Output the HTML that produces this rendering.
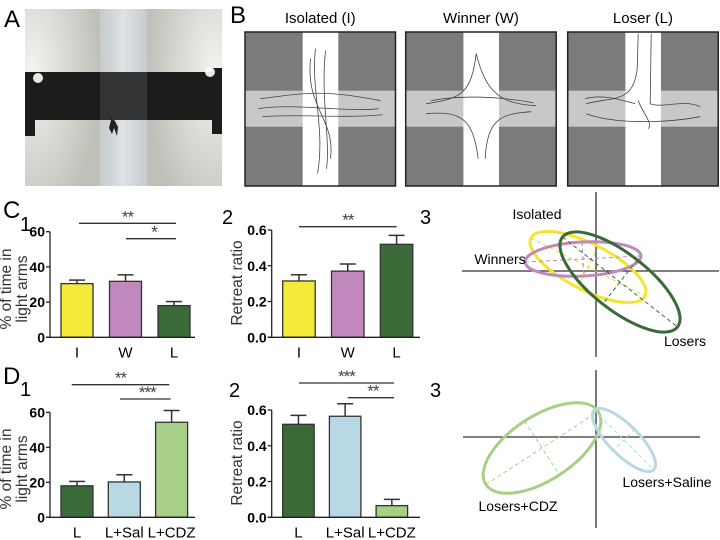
<!DOCTYPE html>
<html><head><meta charset="utf-8">
<style>
html,body{margin:0;padding:0;background:#fff;}
svg{display:block;font-family:"Liberation Sans",sans-serif;}
.tk{font-weight:bold;font-size:14px;}
.xl{font-size:15px;}
.pl{font-size:24px;}
.sn{font-size:20px;}
.st{font-size:17px;fill:#444;letter-spacing:-1px;}
</style></head>
<body>
<svg id="fig" width="720" height="540" viewBox="0 0 720 540">
<defs>
<radialGradient id="glowL" cx="0.1" cy="0.35" r="0.9"><stop offset="0" stop-color="#f4f4ef"/><stop offset="1" stop-color="#bfc0b8"/></radialGradient>
<radialGradient id="glowR" cx="0.9" cy="0.35" r="0.9"><stop offset="0" stop-color="#f4f4ef"/><stop offset="1" stop-color="#bfc0b8"/></radialGradient>
<linearGradient id="chan" x1="0" x2="1"><stop offset="0" stop-color="#c5cbcf"/><stop offset="0.5" stop-color="#dde2e5"/><stop offset="1" stop-color="#c5cbcf"/></linearGradient>
</defs>

<g>
<text class="pl" x="4" y="27">A</text>
<g>
<rect x="25" y="9" width="75" height="177" fill="url(#glowL)"/>
<rect x="147" y="9" width="75" height="177" fill="url(#glowR)"/>
<rect x="100" y="9" width="47" height="177" fill="url(#chan)"/>
<rect x="25" y="72" width="197" height="48" fill="#1c1c1c"/>
<rect x="25" y="120" width="10" height="16" fill="#1c1c1c"/>
<rect x="212" y="68" width="10" height="66" fill="#1c1c1c"/>
<rect x="100" y="72" width="47" height="48" fill="#3a3b3a" opacity="0.8"/>
<circle cx="38" cy="78" r="5" fill="#fff" opacity="0.9"/>
<circle cx="210" cy="72" r="5" fill="#fff" opacity="0.9"/>
<path d="M108,115 l3,5 l-2,8 l3,6 l2,-6 l3,8 l1,-9 l-3,-6 z" fill="#222"/>
</g>
</g>

<g>
<text class="pl" x="230" y="23">B</text>
<g id="mazes"></g>
</g>

<text class="pl" x="3" y="218">C</text>
<text class="sn" x="20" y="231">1</text>
<text class="sn" x="222" y="224">2</text>
<text class="sn" x="420" y="224">3</text>
<text class="pl" x="3" y="384">D</text>
<text class="sn" x="20" y="396">1</text>
<text class="sn" x="229" y="397">2</text>
<text class="sn" x="430" y="397">3</text>

<g id="charts"></g>

<g>
<line x1="596" y1="192" x2="596" y2="357" stroke="#333" stroke-width="1.3"/>
<line x1="462" y1="271" x2="719" y2="271" stroke="#333" stroke-width="1.3"/>
<g transform="translate(588,267) rotate(27)">
<ellipse rx="64" ry="23" fill="none" stroke="#f2e52e" stroke-width="3"/>
<line x1="-64" y1="0" x2="64" y2="0" stroke="#e8dc30" stroke-dasharray="4,3"/>
<line x1="0" y1="-23" x2="0" y2="23" stroke="#e8dc30" stroke-dasharray="4,3"/>
</g>
<g transform="translate(583,259) rotate(-3)">
<ellipse rx="58" ry="17" fill="none" stroke="#c088bc" stroke-width="3"/>
<line x1="-58" y1="0" x2="58" y2="0" stroke="#c088bc" stroke-dasharray="4,3"/>
<line x1="0" y1="-17" x2="0" y2="17" stroke="#c088bc" stroke-dasharray="4,3"/>
</g>
<g transform="translate(620,282) rotate(38)">
<ellipse rx="73" ry="28" fill="none" stroke="#3a6a38" stroke-width="3"/>
<line x1="-73" y1="0" x2="73" y2="0" stroke="#3a6a38" stroke-dasharray="4,3"/>
<line x1="0" y1="-28" x2="0" y2="28" stroke="#3a6a38" stroke-dasharray="4,3"/>
</g>
<text x="537" y="219" font-size="14" text-anchor="middle">Isolated</text>
<text x="500" y="264" font-size="14" text-anchor="middle">Winners</text>
<text x="685" y="346" font-size="14" text-anchor="middle">Losers</text>
</g>

<g>
<line x1="596" y1="370" x2="596" y2="528" stroke="#333" stroke-width="1.3"/>
<line x1="463" y1="437" x2="700" y2="437" stroke="#333" stroke-width="1.3"/>
<g transform="translate(542,448) rotate(-33)">
<ellipse rx="67" ry="32" fill="none" stroke="#a8cf86" stroke-width="3"/>
<line x1="-67" y1="0" x2="67" y2="0" stroke="#a8cf86" stroke-dasharray="4,3"/>
<line x1="0" y1="-32" x2="0" y2="32" stroke="#a8cf86" stroke-dasharray="4,3"/>
</g>
<g transform="translate(624,440) rotate(45)">
<ellipse rx="42" ry="15" fill="none" stroke="#b8d8e6" stroke-width="3"/>
<line x1="-42" y1="0" x2="42" y2="0" stroke="#b8d8e6" stroke-dasharray="4,3"/>
<line x1="0" y1="-15" x2="0" y2="15" stroke="#b8d8e6" stroke-dasharray="4,3"/>
</g>
<text x="667" y="487" font-size="14" text-anchor="middle">Losers+Saline</text>
<text x="518" y="511" font-size="14" text-anchor="middle">Losers+CDZ</text>
</g>
</svg>

<script>
const c1Categories = ["I", "W", "L"];
const c1Values = [30.5, 31.8, 18];
const c1Errors = [2, 3.7, 2.3];
const c2Categories = ["I", "W", "L"];
const c2Values = [0.315, 0.37, 0.52];
const c2Errors = [0.035, 0.04, 0.05];
const d1Categories = ["L", "L+Sal", "L+CDZ"];
const d1Values = [18, 20.2, 54.3];
const d1Errors = [2.5, 4.1, 6.7];
const d2Categories = ["L", "L+Sal", "L+CDZ"];
const d2Values = [0.52, 0.565, 0.065];
const d2Errors = [0.05, 0.07, 0.035];
const pctTicks = ["0", "20", "40", "60"];
const ratioTicks = ["0.0", "0.2", "0.4", "0.6"];
const mazeTitles = ["Isolated (I)", "Winner (W)", "Loser (L)"];

const NS = "http://www.w3.org/2000/svg";
function mk(tag, attrs, parent) {
  const e = document.createElementNS(NS, tag);
  for (const k in attrs) e.setAttribute(k, attrs[k]);
  parent.appendChild(e);
  return e;
}
const charts = document.getElementById("charts");

function barChart(cfg) {
  const g = mk("g", {}, charts);
  
  
  const y = v => cfg.y0 - (v / cfg.max) * (cfg.y0 - cfg.yTop);
  const x = i => cfg.xStart + i * cfg.step;
  cfg.vals.forEach((v, i) => {
    const e = cfg.vals[i] + cfg.errs[i];
    const cx = x(i) + cfg.bw / 2;
    const el = mk("line", {x1: cx, x2: cx, y1: y(v), y2: y(e), stroke: "#333", "stroke-width": 1.5}, g);
    
    
    const cap = mk("line", {x1: cx - 8, x2: cx + 8, y1: y(e), y2: y(e), stroke: "#333", "stroke-width": 1.5}, g);
    
    
    const r = mk("rect", {x: x(i), y: y(v), width: cfg.bw, height: cfg.y0 - y(v), fill: cfg.colors[i], stroke: "#333", "stroke-width": 1.3}, g);
    
    
    const t = mk("text", {x: cx, y: cfg.y0 + 20, "text-anchor": "middle", class: "xl"}, g);
    t.textContent = cfg.cats[i];
    
    
  });
  const ya = mk("line", {x1: cfg.ax, x2: cfg.ax, y1: cfg.yTop, y2: cfg.y0, stroke: "#222", "stroke-width": 1.3}, g);
  
  
  const xa = mk("line", {x1: cfg.ax - 4, x2: cfg.xEnd, y1: cfg.y0, y2: cfg.y0, stroke: "#222", "stroke-width": 1.3}, g);
  
  
  cfg.ticks.forEach((lab, i) => {
    const v = cfg.max * i / (cfg.ticks.length - 1);
    mk("line", {x1: cfg.ax - 4, x2: cfg.ax, y1: y(v), y2: y(v), stroke: "#222", "stroke-width": 1.3}, g);
    const t = mk("text", {x: cfg.ax - 5, y: y(v) + 5, "text-anchor": "end", class: "tk"}, g);
    t.textContent = lab;
    
    
  });
  cfg.title.forEach((line, i) => {
    const tx = cfg.titleX + i * 16;
    const t = mk("text", {x: tx, y: cfg.titleY, "text-anchor": "middle", "font-size": 15.5, fill: "#333", transform: `rotate(-90 ${tx} ${cfg.titleY})`}, g);
    t.textContent = line;
    
    
  });
  cfg.sig.forEach(s => {
    const l = mk("line", {x1: s[0], x2: s[1], y1: s[2], y2: s[2], stroke: "#333", "stroke-width": 1.3}, g);
    
    
    const t = mk("text", {x: (s[0] + s[1]) / 2 + (s[4] || 0), y: s[2] - 1, "text-anchor": "middle", class: "st"}, g);
    t.textContent = s[3];
    
    
  });
}

const cC = ["#f5ea3a", "#c088bc", "#3a6a38"];
const cD = ["#3a6a38", "#b8d8e6", "#a8cf86"];
barChart({name: "chart-c1", cats: c1Categories, vals: c1Values, errs: c1Errors, colors: cC, max: 60, ticks: pctTicks,
  y0: 337.3, yTop: 231.7, ax: 50, xEnd: 195, xStart: 61, step: 48.5, bw: 32,
  title: ["% of time in", "light arms"], titleX: 11, titleY: 289,
  sig: [[79, 176, 223.3, "**"], [126, 176, 238.7, "*", 3]]});
barChart({name: "chart-c2", cats: c2Categories, vals: c2Values, errs: c2Errors, colors: cC, max: 0.6, ticks: ratioTicks,
  y0: 337.3, yTop: 230, ax: 271.7, xEnd: 420, xStart: 282.7, step: 48.8, bw: 32.5,
  title: ["Retreat ratio"], titleX: 242, titleY: 283,
  sig: [[299, 396.7, 226.7, "**"]]});
barChart({name: "chart-d1", cats: d1Categories, vals: d1Values, errs: d1Errors, colors: cD, max: 60, ticks: pctTicks,
  y0: 517.3, yTop: 412.3, ax: 50, xEnd: 195, xStart: 61, step: 47.3, bw: 32,
  title: ["% of time in", "light arms"], titleX: 11, titleY: 469,
  sig: [[71.7, 169.3, 384.7, "**"], [120, 170.7, 399, "***", 2]]});
barChart({name: "chart-d2", cats: d2Categories, vals: d2Values, errs: d2Errors, colors: cD, max: 0.6, ticks: ratioTicks,
  y0: 517.3, yTop: 410, ax: 271.7, xEnd: 420, xStart: 282.7, step: 46.7, bw: 31.5,
  title: ["Retreat ratio"], titleX: 242, titleY: 463,
  sig: [[299, 394, 383, "***"], [347.7, 394, 397.7, "**", 2]]});

const mz = document.getElementById("mazes");
const boxX = [245, 405.7, 567.7];
mazeTitles.forEach((t, i) => {
  const g = mk("g", {}, mz);
  
  
  const x0 = boxX[i], w = 150.5, y0 = 32, h = 154;
  mk("rect", {x: x0, y: y0, width: w, height: h, fill: "#7b7b7b"}, g);
  mk("rect", {x: x0, y: 90.7, width: w, height: 36, fill: "#c8c8c8"}, g);
  mk("rect", {x: x0 + 57.7, y: y0, width: 35.6, height: h, fill: "#ffffff"}, g);
  mk("rect", {x: x0, y: y0, width: w, height: h, fill: "none", stroke: "#222", "stroke-width": 1.5}, g);
  const cx = x0 + 75.5, cy = 108.7;
  let d;
  if (i === 0) d = `M${cx-60},${cy-10} C${cx-20},${cy-15} ${cx},${cy-20} ${cx+60},${cy-8} M${cx-58},${cy+8} C${cx-20},${cy+5} ${cx+20},${cy+10} ${cx+62},${cy+6} M${cx-62},${cy} C${cx-30},${cy-6} ${cx+30},${cy+4} ${cx+58},${cy} M${cx-5},${cy-60} C${cx-10},${cy-20} ${cx+5},${cy+20} ${cx-3},${cy+65} M${cx+5},${cy-58} C${cx},${cy-10} ${cx+10},${cy+30} ${cx+6},${cy+60} M${cx-10},${cy-50} C${cx-15},${cy} ${cx+15},${cy+10} ${cx+10},${cy+50}`;
  else if (i === 1) d = `M${cx-55},${cy-5} C${cx-20},${cy-10} ${cx-10},${cy-15} ${cx-5},${cy-55} C${cx+5},${cy-15} ${cx+20},${cy-5} ${cx+55},${cy-3} M${cx-55},${cy+5} C${cx-20},${cy+2} ${cx-8},${cy+10} ${cx-3},${cy+50} M${cx+4},${cy+50} C${cx+6},${cy+10} ${cx+20},${cy+5} ${cx+50},${cy+3} M${cx-50},${cy-8} C${cx-20},${cy-14} ${cx+20},${cy-12} ${cx+52},${cy-6}`;
  else d = `M${cx-57},${cy-5} C${cx-30},${cy-12} ${cx-10},${cy-5} ${cx-6},${cy-40} L${cx-5},${cy-75} M${cx+8},${cy-75} L${cx+7},${cy-5} C${cx+20},${cy} ${cx+40},${cy-10} ${cx+57},${cy-2} M${cx-57},${cy+5} C${cx-30},${cy+15} ${cx+20},${cy+15} ${cx+57},${cy+8} M${cx-5},${cy-8} C${cx},${cy+5} ${cx+10},${cy+15} ${cx+5},${cy+20} M${cx-58},${cy-10} C${cx-40},${cy-15} ${cx-20},${cy-8} ${cx-8},${cy-5}`;
  mk("path", {d: d, fill: "none", stroke: "#444", "stroke-width": 0.8}, g);
  const tt = mk("text", {x: x0 + w / 2, y: 23, "text-anchor": "middle", "font-size": 15}, g);
  tt.textContent = t;
  
  
});
</script>
</body></html>
